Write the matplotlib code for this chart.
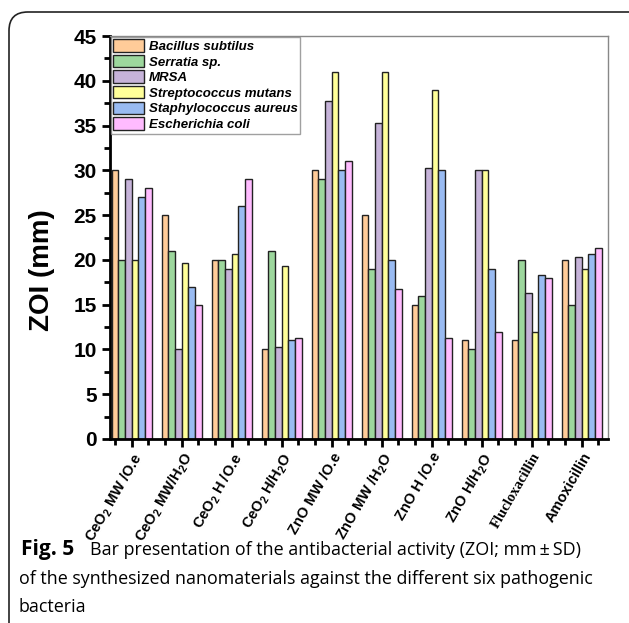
#!/usr/bin/env python3
import numpy as np
import matplotlib
matplotlib.use('Agg')
from matplotlib import pyplot as plt
from matplotlib.patches import FancyBboxPatch
from matplotlib.ticker import MultipleLocator

#%% data
groups = ['CeO$_2$ MW /O.e', 'CeO$_2$ MW/H$_2$O', 'CeO$_2$ H /O.e', 'CeO$_2$ H/H$_2$O',
          'ZnO MW /O.e', 'ZnO MW /H$_2$O', 'ZnO H /O.e', 'ZnO H/H$_2$O',
          'Flucloxacillin', 'Amoxicillin']
bacteria = ['Bacillus subtilus', 'Serratia sp.', 'MRSA', 'Streptococcus mutans',
            'Staphylococcus aureus', 'Escherichia coli']
bacillus = [30, 25, 20, 10, 30, 25, 15, 11, 11, 20]
serratia = [20, 21, 20, 21, 29, 19, 16, 10, 20, 15]
mrsa = [29, 10, 19, 10.3, 37.7, 35.3, 30.3, 30, 16.3, 20.3]
strepto = [20, 19.7, 20.7, 19.3, 41, 41, 39, 30, 12, 19]
staph = [27, 17, 26, 11, 30, 20, 30, 19, 18.3, 20.7]
ecoli = [28, 15, 29, 11.3, 31, 16.7, 11.3, 12, 18, 21.3]
colors = ['#FFCC99', '#9DD79D', '#C6B3D9', '#FFFF99', '#99BBF2', '#FFBBFF']

#%%
plt.rcParams['font.family'] = ['Liberation Sans', 'DejaVu Sans']
plt.rcParams['mathtext.default'] = 'regular'

W, H = 629, 623
fig = plt.figure(figsize=(W / 100, H / 100), dpi=100)
ax = fig.add_axes([110 / W, 1 - 439 / H, (608 - 110) / W, (439 - 36) / H])

series = [bacillus, serratia, mrsa, strepto, staph, ecoli]
x = np.arange(len(groups))
bw = 0.8 / 6
for i, (vals, name) in enumerate(zip(series, bacteria)):
    ax.bar(x - 0.4 + bw * (i + 0.5), vals, bw, color=colors[i], edgecolor='#222222',
           linewidth=1.0, label=name)

ax.set_xlim(-0.434, 9.526)
ax.set_ylim(0, 45)
ax.yaxis.set_major_locator(MultipleLocator(5))
ax.yaxis.set_minor_locator(MultipleLocator(2.5))
ax.set_xticks(x)
ax.xaxis.set_minor_locator(MultipleLocator(1 / 3))
ax.tick_params(axis='both', which='major', direction='out', length=6, width=2)
ax.tick_params(axis='both', which='minor', direction='out', length=4, width=2)
ax.tick_params(axis='y', labelsize=15)
for lab in ax.get_yticklabels():
    lab.set_fontweight('bold')
ax.set_xticklabels(groups, rotation=60, ha='right', va='top', rotation_mode='anchor',
                   fontsize=10.5, fontweight='bold')
for lab in ax.get_xticklabels():
    if lab.get_text() == 'Flucloxacillin':
        lab.set_family('Liberation Serif')
ax.tick_params(axis='x', pad=2)

for s in ['left', 'bottom']:
    ax.spines[s].set_linewidth(2)
for s in ['top', 'right']:
    ax.spines[s].set_color('#888888')
    ax.spines[s].set_linewidth(1)

ax.set_ylabel('ZOI (mm)', fontsize=20, fontweight='bold')
ax.yaxis.set_label_coords(-0.11, 0.42)

leg = ax.legend(loc='upper left', bbox_to_anchor=(0.0, 1.0), frameon=True, fancybox=False,
                edgecolor='#888888', borderaxespad=0.05, handlelength=2.3, handleheight=1.05,
                handletextpad=0.4, labelspacing=0.15, borderpad=0.2,
                prop={'style': 'italic', 'weight': 'bold', 'size': 9.5})
leg.get_frame().set_linewidth(1)

# caption
cap = 12.9
fig.text(21 / W, 1 - 550 / H, 'Fig. 5', fontsize=15, va='center',
         family='Open Sans', fontweight='bold')
fig.text(90 / W, 1 - 550 / H, 'Bar presentation of the antibacterial activity (ZOI; mm\u2009\u00b1\u2009SD)',
         fontsize=cap, va='center', family='Open Sans')
fig.text(19 / W, 1 - 579 / H, 'of the synthesized nanomaterials against the different six pathogenic',
         fontsize=cap, va='center', family='Open Sans')
fig.text(19 / W, 1 - 607 / H, 'bacteria', fontsize=cap, va='center', family='Open Sans')

# figure frame (top + left with rounded corner)
frame = FancyBboxPatch((9 / W, -0.2), 1.2, 1.2 - 12 / H,
                       boxstyle='round,pad=0,rounding_size=0.03',
                       transform=fig.transFigure, fill=False, edgecolor='#222222',
                       linewidth=1.2)
fig.add_artist(frame)

fig.savefig('out.png', dpi=100)
